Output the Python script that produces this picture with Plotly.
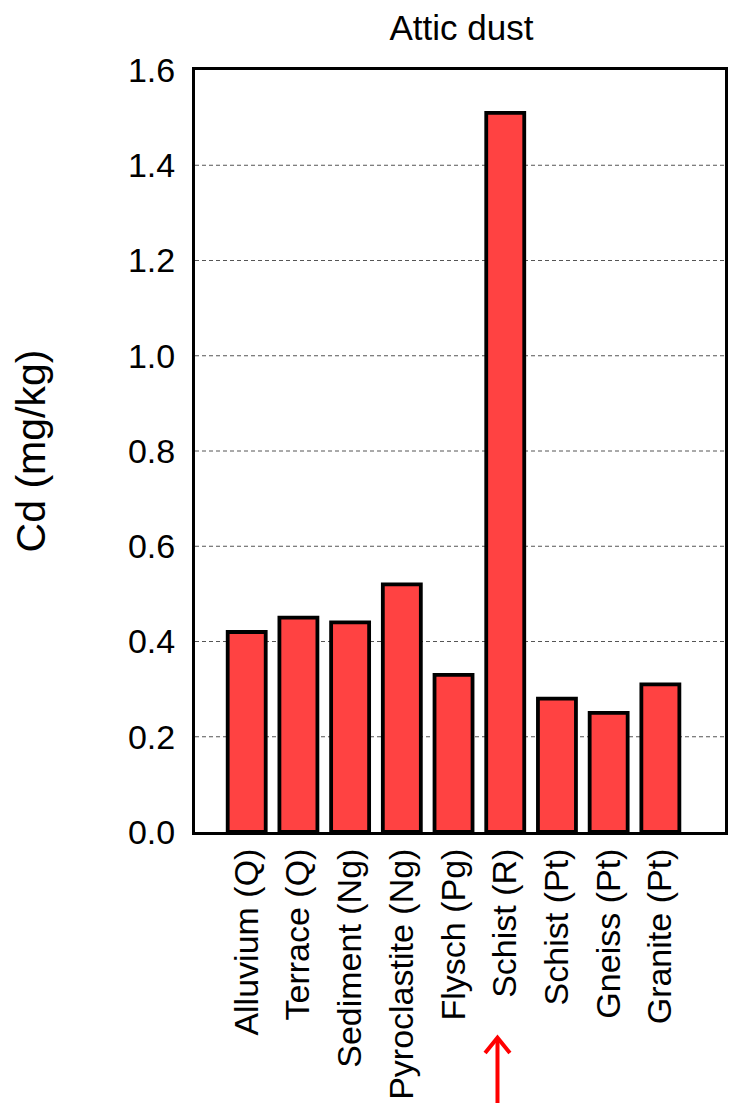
import plotly.graph_objects as go

categories = ["Alluvium (Q)", "Terrace (Q)", "Sediment (Ng)", "Pyroclastite (Ng)",
              "Flysch (Pg)", "Schist (R)", "Schist (Pt)", "Gneiss (Pt)", "Granite (Pt)"]
cd_values = [0.42, 0.45, 0.44, 0.52, 0.33, 1.51, 0.28, 0.25, 0.31]
y_ticks = [0.0, 0.2, 0.4, 0.6, 0.8, 1.0, 1.2, 1.4, 1.6]
title_text = "Attic dust"
y_title = "Cd (mg/kg)"
highlight = "Schist (R)"

FONT = "Liberation Sans, Arial, sans-serif"

fig = go.Figure()
fig.add_trace(go.Bar(
    x=categories, y=cd_values,
    marker=dict(color="#FF4242", line=dict(color="black", width=3.8)),
    showlegend=False,
))

# gridlines (dashed) for interior ticks
for v in y_ticks[1:-1]:
    fig.add_shape(type="line", xref="paper", yref="y", x0=0, x1=1, y0=v, y1=v,
                  line=dict(color="#555555", width=1, dash="4px,3px"), layer="below")

hi = categories.index(highlight) - 0.15
# red arrow under highlighted category
fig.add_shape(type="line", xref="x", yref="paper", x0=hi, x1=hi, y0=-0.272, y1=-0.40,
              line=dict(color="#FF0000", width=4))
fig.add_shape(type="path", xref="x", yref="paper",
              path=f"M {hi-0.24},-0.290 L {hi},-0.270 L {hi+0.24},-0.290",
              line=dict(color="#FF0000", width=4))

fig.update_layout(
    width=729, height=1103,
    margin=dict(l=195, r=4, t=70, b=271),
    paper_bgcolor="white", plot_bgcolor="white",
    bargap=0.265,
    font=dict(family=FONT, color="black"),
    title=dict(text=title_text, x=0.633, xanchor="center", y=0.975, yanchor="middle",
               font=dict(size=35, family=FONT, color="black")),
)
fig.update_xaxes(
    range=[-1, len(categories) + 0.25],
    tickangle=-90, tickfont=dict(size=34, family=FONT, color="black"),
    showline=True, linecolor="black", linewidth=3, mirror=True,
    showgrid=False, ticks="", automargin=False,
)
fig.update_yaxes(
    range=[0, 1.6], tickvals=y_ticks, tickformat=".1f",
    tickfont=dict(size=34, family=FONT, color="black"),
    showline=True, linecolor="black", linewidth=3, mirror=True,
    showgrid=False, ticks="", zeroline=False, automargin=False,
    title=dict(text=y_title, font=dict(size=41, family=FONT, color="black"), standoff=70),
    ticklabelstandoff=10,
)

fig.write_html("out.html", post_script="document.body.style.margin='0';",
               config={"displayModeBar": False})
